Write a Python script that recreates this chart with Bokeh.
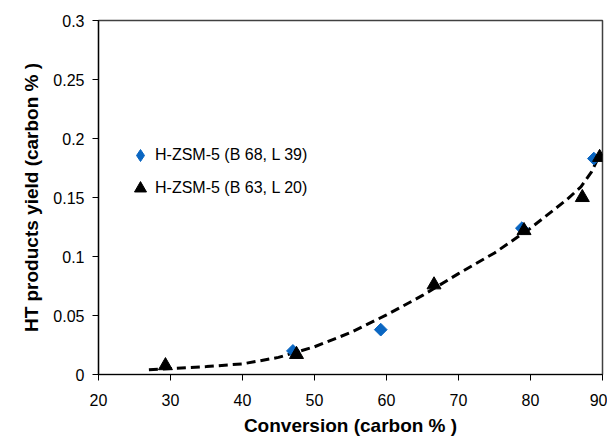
from bokeh.plotting import figure
from bokeh.models import Legend, LegendItem, FixedTicker, Range1d
from bokeh.embed import file_html
from bokeh.resources import INLINE
import math

# Series 1: H-ZSM-5 (B 68, L 39)
conv_a = [47.0, 59.2, 78.8, 88.8]
yield_a = [0.020, 0.038, 0.124, 0.183]

# Series 2: H-ZSM-5 (B 63, L 20)
conv_b = [29.3, 47.5, 66.6, 79.1, 87.2, 89.6]
yield_b = [0.0075, 0.017, 0.076, 0.122, 0.150, 0.184]

# Trend line
trend_x = [27, 30, 35, 40, 45, 50, 55, 60, 65, 70, 75, 80, 85, 87, 88.5, 89.6]
trend_y = [0.0040, 0.0050, 0.0067, 0.0090, 0.0145, 0.0235, 0.0355, 0.0505, 0.067,
           0.0855, 0.103, 0.124, 0.148, 0.159, 0.172, 0.186]

x_ticks = [20, 30, 40, 50, 60, 70, 80, 90]
y_ticks = [0, 0.05, 0.1, 0.15, 0.2, 0.25, 0.3]
y_tick_labels = ["0", "0.05", "0.1", "0.15", "0.2", "0.25", "0.3"]

label_a = "H-ZSM-5 (B 68, L 39)"
label_b = "H-ZSM-5 (B 63, L 20)"

FONT = "Liberation Sans"
BLUE = "#0a66c2"

W, H = 607, 438
p = figure(width=W, height=H, output_backend="svg", toolbar_location=None,
           x_range=Range1d(20, 90), y_range=Range1d(0, 0.3),
           min_border_left=98, min_border_right=5, min_border_top=20,
           min_border_bottom=58)

p.xgrid.visible = False
p.ygrid.visible = False
p.outline_line_color = "#404040"
p.outline_line_width = 1.5

trend = p.line(trend_x, trend_y, line_color="black", line_width=3, line_dash="9 5")
ra = p.scatter(conv_a, yield_a, marker="square", size=9, angle=math.pi / 4,
               fill_color=BLUE, line_color=BLUE)
rb = p.scatter(conv_b, yield_b, marker="triangle", size=14, fill_color="black",
               line_color="black")
# legend-only glyph for the diamond series (a single point outside the view)
ra_leg = p.scatter(x=[-100], y=[-1], marker="diamond", size=14, fill_color=BLUE,
                   line_color=BLUE)

for ax in (p.xaxis[0], p.yaxis[0]):
    ax.axis_line_color = "black"
    ax.axis_line_width = 1.2
    ax.major_tick_line_color = "black"
    ax.major_tick_in = 0
    ax.major_tick_out = 6
    ax.minor_tick_line_color = None
    ax.major_label_text_font = FONT
    ax.major_label_text_font_size = "16px"
    ax.major_label_text_color = "black"
    ax.axis_label_text_font = FONT
    ax.axis_label_text_font_size = "19px"
    ax.axis_label_text_font_style = "bold"
    ax.axis_label_text_color = "black"

p.xaxis[0].ticker = FixedTicker(ticks=x_ticks)
p.yaxis[0].ticker = FixedTicker(ticks=y_ticks)
p.yaxis[0].major_label_overrides = {t: s for t, s in zip(y_ticks, y_tick_labels)}
p.xaxis[0].axis_label = "Conversion (carbon % )"
p.yaxis[0].axis_label = "HT products yield (carbon % )"
p.xaxis[0].major_label_standoff = 13
p.xaxis[0].axis_label_standoff = 6
p.yaxis[0].major_label_standoff = 8
p.yaxis[0].axis_label_standoff = 8

legend = Legend(items=[LegendItem(label=label_a, renderers=[ra_leg]),
                       LegendItem(label=label_b, renderers=[rb])],
                location=(27, 171))
legend.border_line_color = None
legend.background_fill_alpha = 0
legend.padding = 0
legend.margin = 0
legend.spacing = 3
legend.glyph_width = 30
legend.glyph_height = 30
legend.label_standoff = 0
legend.label_text_font = FONT
legend.label_text_font_size = "16px"
legend.label_text_color = "black"
p.add_layout(legend, "center")

open("out.html", "w").write(file_html(p, INLINE))
